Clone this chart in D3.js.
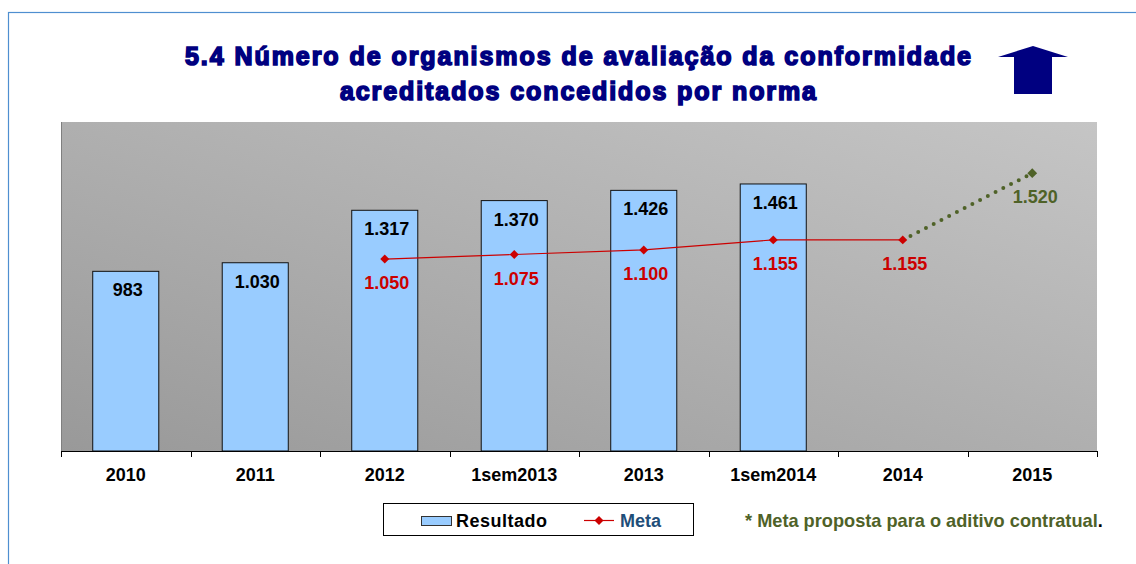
<!DOCTYPE html>
<html>
<head>
<meta charset="utf-8">
<script src="https://cdn.jsdelivr.net/npm/d3@7"></script>
<style>
  body { margin: 0; background: #fff; }
  text { font-family: "Liberation Sans", Arial, sans-serif; font-weight: bold; }
</style>
</head>
<body>
<div id="caja"></div>
<script>
// dados do grafico
var categorias = ["2010", "2011", "2012", "1sem2013", "2013", "1sem2014", "2014", "2015"];
var resultado  = [983, 1030, 1317, 1370, 1426, 1461, null, null];
var meta       = [null, null, 1050, 1075, 1100, 1155, 1155, null];
var metaProp   = [null, null, null, null, null, null, 1155, 1520];
var titulo     = ["5.4 Número de organismos de avaliação da conformidade",
                  "acreditados concedidos por norma"];

var w = 1136, h = 564;
var fmt = d3.formatLocale({decimal: ",", thousands: ".", grouping: [3], currency: ["", ""]}).format(",d");

var svg = d3.select("#caja").append("svg")
  .attr("width", w)
  .attr("height", h);

// moldura externa
svg.append("rect")
  .attr("x", 8.5).attr("y", 12.5)
  .attr("width", 1200).attr("height", 600)
  .style("fill", "none")
  .style("stroke", "#4f8fd0")
  .style("stroke-width", 1.2);

// titulo
svg.selectAll("text.titulo")
  .data(titulo)
  .enter().append("text")
  .attr("class", "titulo")
  .attr("x", function(d, i) { return i == 0 ? 185 : 340; })
  .attr("y", function(d, i) { return i == 0 ? 65 : 100; })
  .attr("textLength", function(d, i) { return i == 0 ? 786 : 476; })
  .attr("lengthAdjust", "spacing")
  .style("font-size", "25px")
  .style("fill", "#000080")
  .style("stroke", "#000080")
  .style("stroke-width", 1.6)
  .text(function(d) { return d; });

// seta
svg.append("path")
  .attr("d", "M1033,46 L1068,57 L1052,57 L1052,94 L1014,94 L1014,57 L998,57 Z")
  .style("fill", "#000080");

// escalas
var x = d3.scaleBand()
  .domain(categorias)
  .range([61, 1097])
  .paddingInner(0.49)
  .paddingOuter(0.245);

var y = d3.scaleLinear()
  .domain([0, 1800])
  .range([451, 122]);

var cx = function(c) { return x(c) + x.bandwidth() / 2; };

// fundo com gradiente
var grad = svg.append("defs").append("linearGradient")
  .attr("id", "fundo")
  .attr("x1", 0).attr("y1", 1).attr("x2", 1).attr("y2", 0);
grad.append("stop").attr("offset", "0%").attr("stop-color", "#999999");
grad.append("stop").attr("offset", "100%").attr("stop-color", "#c5c5c5");

svg.append("rect")
  .attr("x", 61).attr("y", y(1800))
  .attr("width", 1036).attr("height", y(0) - y(1800))
  .style("fill", "url(#fundo)");
svg.append("line")
  .attr("x1", 61.5).attr("x2", 61.5).attr("y1", y(1800)).attr("y2", y(0))
  .style("stroke", "#7f7f7f");

// barras
var dadosBarras = categorias.map(function(c, i) { return {cat: c, v: resultado[i]}; })
  .filter(function(d) { return d.v != null; });

svg.append("g").selectAll("rect")
  .data(dadosBarras)
  .enter().append("rect")
  .attr("x", function(d) { return x(d.cat); })
  .attr("y", function(d) { return y(d.v); })
  .attr("width", x.bandwidth())
  .attr("height", function(d) { return y(0) - y(d.v); })
  .style("fill", "#99ccff")
  .style("stroke", "#111")
  .style("stroke-width", 1);

svg.append("g").selectAll("text")
  .data(dadosBarras)
  .enter().append("text")
  .attr("x", function(d) { return cx(d.cat) + 2; })
  .attr("y", function(d) { return y(d.v) + 25; })
  .attr("text-anchor", "middle")
  .style("font-size", "18px")
  .style("fill", "#000")
  .text(function(d) { return fmt(d.v); });

// eixo x
var eixo = svg.append("g");
eixo.append("line")
  .attr("x1", 61).attr("x2", 1097)
  .attr("y1", y(0) + 0.5).attr("y2", y(0) + 0.5)
  .style("stroke", "#000");
var limites = categorias.map(function(c) { return cx(c) - x.step() / 2; });
limites.push(cx(categorias[categorias.length - 1]) + x.step() / 2);
eixo.selectAll("line.tick")
  .data(limites)
  .enter().append("line")
  .attr("class", "tick")
  .attr("x1", function(d) { return Math.round(d) + 0.5; })
  .attr("x2", function(d) { return Math.round(d) + 0.5; })
  .attr("y1", y(0)).attr("y2", y(0) + 6)
  .style("stroke", "#000");
eixo.selectAll("text")
  .data(categorias)
  .enter().append("text")
  .attr("x", function(d) { return cx(d); })
  .attr("y", 481)
  .attr("text-anchor", "middle")
  .style("font-size", "18px")
  .style("fill", "#000")
  .text(function(d) { return d; });

// linha meta
var dadosMeta = categorias.map(function(c, i) { return {cat: c, v: meta[i]}; })
  .filter(function(d) { return d.v != null; });
var dadosProp = categorias.map(function(c, i) { return {cat: c, v: metaProp[i]}; })
  .filter(function(d) { return d.v != null; });

var linha = d3.line()
  .x(function(d) { return cx(d.cat); })
  .y(function(d) { return y(d.v); });

svg.append("path")
  .datum(dadosProp)
  .attr("d", linha)
  .style("fill", "none")
  .style("stroke", "#4f6228")
  .style("stroke-width", 4)
  .style("stroke-linecap", "round")
  .style("stroke-dasharray", "0 8.7");

svg.append("path")
  .datum(dadosMeta)
  .attr("d", linha)
  .style("fill", "none")
  .style("stroke", "#cc0000")
  .style("stroke-width", 1.2);

var diamante = d3.symbol().type(d3.symbolSquare).size(40);

svg.append("g").selectAll("path")
  .data(dadosMeta)
  .enter().append("path")
  .attr("d", diamante)
  .attr("transform", function(d) { return "translate(" + cx(d.cat) + "," + y(d.v) + ") rotate(45)"; })
  .style("fill", "#cc0000");

svg.append("path")
  .attr("d", d3.symbol().type(d3.symbolSquare).size(48))
  .attr("transform", "translate(" + cx("2015") + "," + y(metaProp[7]) + ") rotate(45)")
  .style("fill", "#4f6228");

svg.append("g").selectAll("text")
  .data(dadosMeta)
  .enter().append("text")
  .attr("x", function(d) { return cx(d.cat) + 2; })
  .attr("y", function(d) { return y(d.v) + 30; })
  .attr("text-anchor", "middle")
  .style("font-size", "18px")
  .style("fill", "#cc0000")
  .text(function(d) { return fmt(d.v); });

svg.append("text")
  .attr("x", cx("2015") + 3)
  .attr("y", y(metaProp[7]) + 30)
  .attr("text-anchor", "middle")
  .style("font-size", "18px")
  .style("fill", "#4f6228")
  .text(fmt(metaProp[7]));

// legenda
var leg = svg.append("g");
leg.append("rect")
  .attr("x", 383.5).attr("y", 503.5)
  .attr("width", 310).attr("height", 32)
  .style("fill", "#fff")
  .style("stroke", "#000");
leg.append("rect")
  .attr("x", 421.5).attr("y", 516.5)
  .attr("width", 30).attr("height", 9)
  .style("fill", "#99ccff")
  .style("stroke", "#333");
leg.append("text")
  .attr("x", 456).attr("y", 527)
  .attr("textLength", 91)
  .style("font-size", "18px")
  .style("fill", "#000")
  .text("Resultado");
leg.append("line")
  .attr("x1", 584).attr("x2", 614)
  .attr("y1", 520.5).attr("y2", 520.5)
  .style("stroke", "#cc0000")
  .style("stroke-width", 1.2);
leg.append("path")
  .attr("d", diamante)
  .attr("transform", "translate(599,520.5) rotate(45)")
  .style("fill", "#cc0000");
leg.append("text")
  .attr("x", 620).attr("y", 527)
  .style("font-size", "18px")
  .style("fill", "#1f4e79")
  .text("Meta");

// nota
var nota = svg.append("text")
  .attr("x", 745).attr("y", 527)
  .style("font-size", "18.2px");
nota.append("tspan")
  .style("fill", "#4f6228")
  .text("* Meta proposta para o aditivo contratual");
nota.append("tspan")
  .style("fill", "#000")
  .text(".");
</script>
</body>
</html>
